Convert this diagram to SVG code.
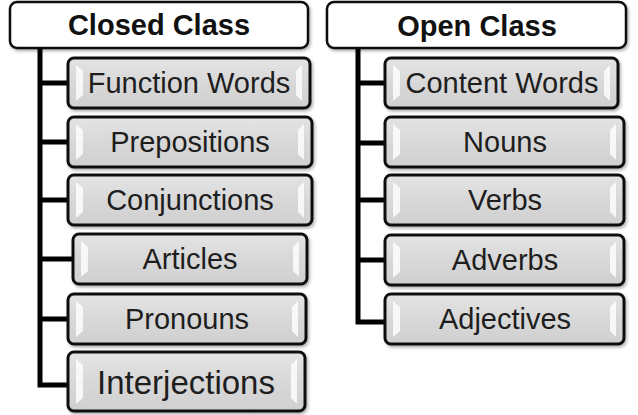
<svg xmlns="http://www.w3.org/2000/svg" width="638" height="415" viewBox="0 0 638 415">
<defs>
<linearGradient id="g" x1="0" y1="0" x2="0" y2="1">
<stop offset="0" stop-color="#e4e4e4"/>
<stop offset="0.5" stop-color="#d8d8d8"/>
<stop offset="1" stop-color="#d0d0d0"/>
</linearGradient>
<filter id="sh" x="-10%" y="-10%" width="120%" height="130%">
<feDropShadow dx="1.5" dy="2" stdDeviation="1.5" flood-color="#000" flood-opacity="0.3"/>
</filter>
</defs>
<style>
.hdr{fill:#fff;stroke:#111;stroke-width:2.5;filter:url(#sh)}
.box{fill:url(#g);stroke:#111;stroke-width:3;filter:url(#sh)}
.bev{fill:#fff;opacity:0.8}
.ht{font-family:"Liberation Sans",Arial,sans-serif;font-weight:bold;font-size:29px;fill:#111;text-anchor:middle}
.ct{font-family:"Liberation Sans",Arial,sans-serif;font-size:29px;fill:#1e1e1e;text-anchor:middle}
.con{fill:none;stroke:#000;stroke-width:5;stroke-linejoin:miter}
</style>
<g id="connectors">
<path class="con" d="M40 48 V385 H70 M40 83 H70 M40 142 H70 M40 200 H70 M40 259 H75 M40 319 H70"/>
<path class="con" d="M358 48 V322 H387 M358 83 H387 M358 143 H387 M358 200 H387 M358 260 H387"/>
</g>
<g id="closed-class">
<rect class="hdr" x="10" y="2" width="298" height="46" rx="7"/>
<text class="ht" x="159" y="35">Closed Class</text>
</g>
<g id="open-class">
<rect class="hdr" x="327" y="2" width="299" height="46" rx="7"/>
<text class="ht" x="477" y="36">Open Class</text>
</g>
<g id="function-words">
<rect class="box" x="68" y="58" width="242" height="50" rx="6"/>
<path class="bev" d="M76 65 L83 71 V95 L76 101 Z"/><path class="bev" d="M302 65 L296 71 V95 L302 101 Z"/>
<text class="ct" x="189" y="93">Function Words</text>
</g>
<g id="prepositions">
<rect class="box" x="68" y="117" width="244" height="50" rx="6"/>
<path class="bev" d="M76 124 L83 130 V154 L76 160 Z"/><path class="bev" d="M304 124 L298 130 V154 L304 160 Z"/>
<text class="ct" x="190" y="152">Prepositions</text>
</g>
<g id="conjunctions">
<rect class="box" x="68" y="175" width="244" height="50" rx="6"/>
<path class="bev" d="M76 182 L83 188 V212 L76 218 Z"/><path class="bev" d="M304 182 L298 188 V212 L304 218 Z"/>
<text class="ct" x="190" y="210">Conjunctions</text>
</g>
<g id="articles">
<rect class="box" x="73" y="234" width="234" height="50" rx="6"/>
<path class="bev" d="M81 241 L88 247 V271 L81 277 Z"/><path class="bev" d="M299 241 L293 247 V271 L299 277 Z"/>
<text class="ct" x="190" y="269">Articles</text>
</g>
<g id="pronouns">
<rect class="box" x="68" y="294" width="238" height="50" rx="6"/>
<path class="bev" d="M76 301 L83 307 V331 L76 337 Z"/><path class="bev" d="M298 301 L292 307 V331 L298 337 Z"/>
<text class="ct" x="187" y="329">Pronouns</text>
</g>
<g id="interjections">
<rect class="box" x="68" y="352" width="237" height="59" rx="6"/>
<path class="bev" d="M76 359 L83 365 V398 L76 404 Z"/><path class="bev" d="M297 359 L291 365 V398 L297 404 Z"/>
<text class="ct" x="186" y="394" style="font-size:33px">Interjections</text>
</g>
<g id="content-words">
<rect class="box" x="385" y="58" width="233" height="50" rx="6"/>
<path class="bev" d="M393 65 L400 71 V95 L393 101 Z"/><path class="bev" d="M610 65 L604 71 V95 L610 101 Z"/>
<text class="ct" x="502" y="93">Content Words</text>
</g>
<g id="nouns">
<rect class="box" x="385" y="117" width="239" height="50" rx="6"/>
<path class="bev" d="M393 124 L400 130 V154 L393 160 Z"/><path class="bev" d="M616 124 L610 130 V154 L616 160 Z"/>
<text class="ct" x="505" y="152">Nouns</text>
</g>
<g id="verbs">
<rect class="box" x="385" y="175" width="239" height="50" rx="6"/>
<path class="bev" d="M393 182 L400 188 V212 L393 218 Z"/><path class="bev" d="M616 182 L610 188 V212 L616 218 Z"/>
<text class="ct" x="505" y="210">Verbs</text>
</g>
<g id="adverbs">
<rect class="box" x="385" y="235" width="239" height="50" rx="6"/>
<path class="bev" d="M393 242 L400 248 V272 L393 278 Z"/><path class="bev" d="M616 242 L610 248 V272 L616 278 Z"/>
<text class="ct" x="505" y="270">Adverbs</text>
</g>
<g id="adjectives">
<rect class="box" x="385" y="294" width="239" height="50" rx="6"/>
<path class="bev" d="M393 301 L400 307 V331 L393 337 Z"/><path class="bev" d="M616 301 L610 307 V331 L616 337 Z"/>
<text class="ct" x="505" y="329">Adjectives</text>
</g>
</svg>
